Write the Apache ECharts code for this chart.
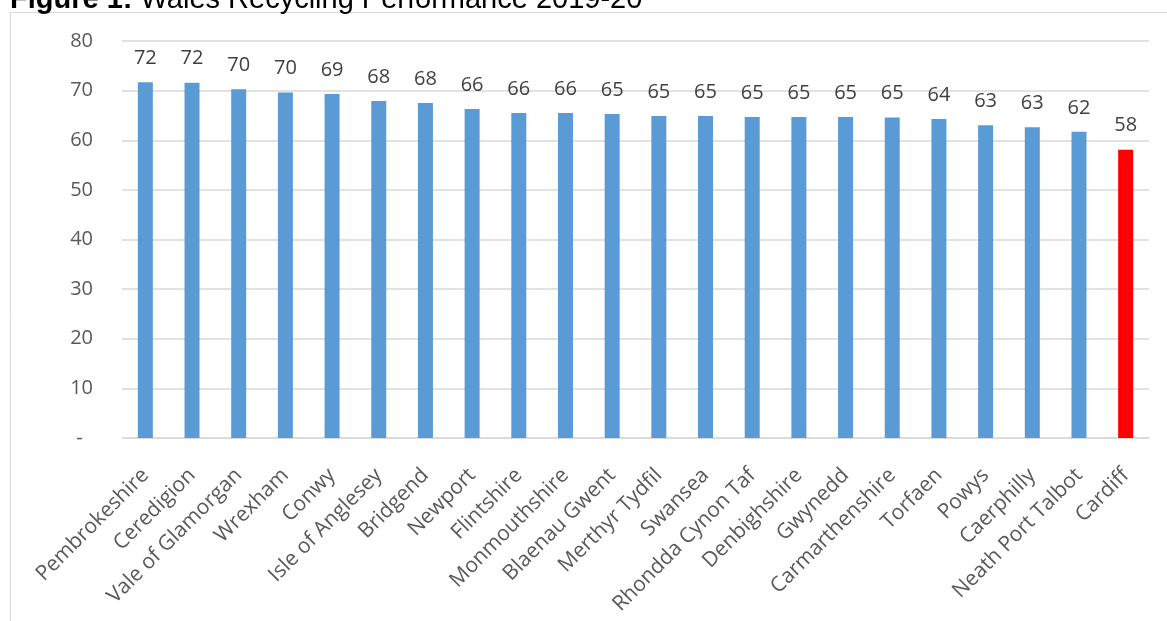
<!DOCTYPE html>
<html>
<head>
<meta charset="utf-8">
<script src="https://cdn.jsdelivr.net/npm/echarts@6/dist/echarts.min.js"></script>
<style>html,body{margin:0;padding:0;background:#fff}#c{width:1167px;height:621px}</style>
</head>
<body>
<div id="c"></div>
<script>
const categories = ["Pembrokeshire","Ceredigion","Vale of Glamorgan","Wrexham","Conwy","Isle of Anglesey","Bridgend","Newport","Flintshire","Monmouthshire","Blaenau Gwent","Merthyr Tydfil","Swansea","Rhondda Cynon Taf","Denbighshire","Gwynedd","Carmarthenshire","Torfaen","Powys","Caerphilly","Neath Port Talbot","Cardiff"];
const values = [71.7,71.6,70.3,69.6,69.3,67.9,67.5,66.3,65.5,65.5,65.3,64.9,64.9,64.7,64.7,64.7,64.6,64.3,63.0,62.6,61.7,58.1];
const highlight = "Cardiff";
const yTicks = [0,10,20,30,40,50,60,70,80];

const chart = echarts.init(document.getElementById('c'));
const font = '"Open Sans", sans-serif';
chart.setOption({
  animation: false,
  title: {
    text: '{b|Figure 1:} Wales Recycling Performance 2019-20',
    left: 10, top: -15, padding: 0,
    textStyle: {
      fontFamily: '"Liberation Sans", Arial, sans-serif', fontSize: 29, fontWeight: 'normal', color: '#000', lineHeight: 29,
      rich: { b: { fontFamily: '"Liberation Sans", Arial, sans-serif', fontSize: 29, fontWeight: 'bold', color: '#000', lineHeight: 29 } }
    }
  },
  graphic: [{
    type: 'rect', silent: true,
    shape: { x: 10.5, y: 12.5, width: 1300, height: 800 },
    style: { fill: 'none', stroke: '#d9d9d9', lineWidth: 1 }
  }],
  grid: { left: 122, right: 18, top: 41, bottom: 183, containLabel: false },
  xAxis: {
    type: 'category', data: categories,
    axisTick: { show: false },
    axisLine: { lineStyle: { color: '#d9d9d9', width: 1.5 } },
    axisLabel: { rotate: 45, interval: 0, margin: 34, color: '#595959', fontFamily: font, fontSize: 21 }
  },
  yAxis: {
    type: 'value', min: yTicks[0], max: yTicks[yTicks.length-1], interval: 10,
    axisLine: { show: false }, axisTick: { show: false },
    splitLine: { lineStyle: { color: '#d9d9d9', width: 1.5 } },
    axisLabel: { margin: 29, color: '#595959', fontFamily: font, fontSize: 20,
      formatter: v => v === 0 ? '-  ' : String(v) }
  },
  series: [{
    type: 'bar', barWidth: 15,
    data: values.map((v, i) => ({ value: v, itemStyle: { color: categories[i] === highlight ? '#ff0000' : '#5b9bd5' } })),
    label: { show: true, position: 'top', distance: 14, color: '#404040', fontFamily: font, fontSize: 20,
      formatter: p => String(Math.round(p.value)) }
  }]
});
</script>
</body>
</html>
